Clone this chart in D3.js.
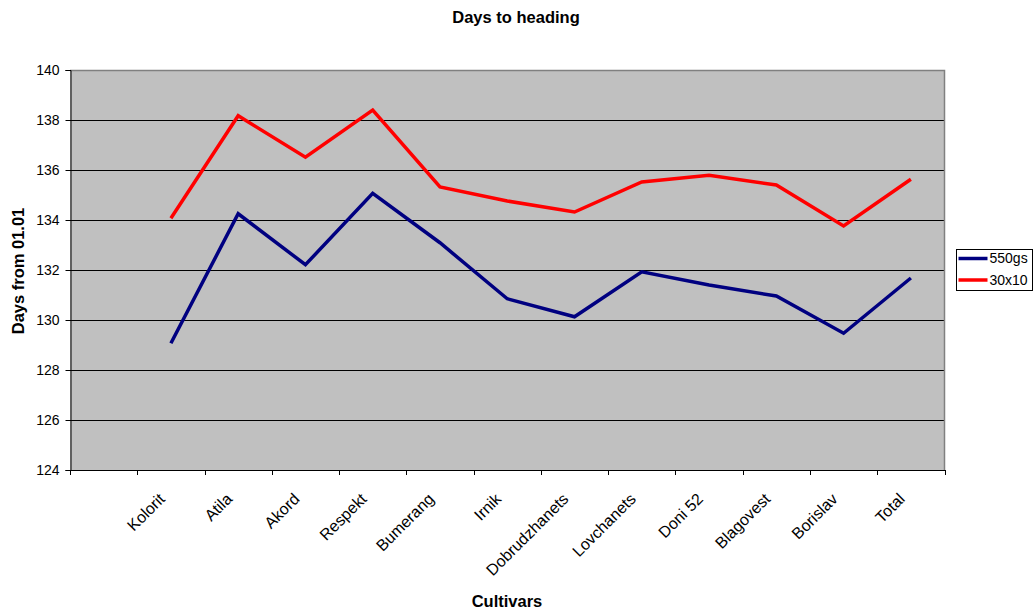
<!DOCTYPE html>
<html>
<head>
<meta charset="utf-8">
<script src="https://cdn.jsdelivr.net/npm/d3@7"></script>
<style>
  html, body { margin: 0; padding: 0; background: #fff; }
  svg text { font-family: "Liberation Sans", Arial, sans-serif; }
</style>
</head>
<body>
<svg id="chart" width="1036" height="610"></svg>
<script>
// Cultivars on the category axis (first slot left blank)
const cultivars = ["", "Kolorit", "Atila", "Akord", "Respekt", "Bumerang", "Irnik",
  "Dobrudzhanets", "Lovchanets", "Doni 52", "Blagovest", "Borislav", "Total"];

// Days from 01.01 to heading, per sowing scheme
const values550gs = [null, 129.07, 134.25, 132.21, 135.07, 133.09, 130.85,
  130.13, 131.93, 131.4, 130.96, 129.47, 131.68];
const values30x10 = [null, 134.07, 138.17, 136.51, 138.4, 135.32, 134.76,
  134.32, 135.52, 135.79, 135.4, 133.76, 135.63];

const yTicks = [124, 126, 128, 130, 132, 134, 136, 138, 140];

const seriesList = [
  { name: "550gs", values: values550gs, color: "#000080" },
  { name: "30x10", values: values30x10, color: "#FF0000" }
];

const svg = d3.select("#chart");
const plot = { left: 70, top: 70, right: 944.5, bottom: 470 };

const x = d3.scaleBand().domain(cultivars.map((d, i) => i))
  .range([plot.left, plot.right]);
const y = d3.scaleLinear().domain([124, 140]).range([plot.bottom, plot.top]);

// Plot background
svg.append("rect")
  .attr("x", plot.left).attr("y", plot.top)
  .attr("width", plot.right - plot.left).attr("height", plot.bottom - plot.top)
  .attr("fill", "#C0C0C0");

// Gridlines
svg.append("g").selectAll("line")
  .data(yTicks.filter(t => t > 124 && t < 140))
  .join("line")
  .attr("x1", plot.left).attr("x2", plot.right)
  .attr("y1", d => Math.round(y(d)) + 0.5).attr("y2", d => Math.round(y(d)) + 0.5)
  .attr("stroke", "#000").attr("stroke-width", 1);

// Frame top/right in grey
svg.append("path")
  .attr("d", `M${plot.left},${plot.top + 0.5}H${plot.right}V${plot.bottom}`)
  .attr("fill", "none").attr("stroke", "#808080").attr("stroke-width", 1.5);

// Y axis
const yAxis = svg.append("g")
  .attr("transform", `translate(${plot.left + 0.5},0)`)
  .call(d3.axisLeft(y).tickValues(yTicks).tickSize(5).tickPadding(6).tickFormat(d3.format("d")));
yAxis.select(".domain").attr("stroke", "#000");
yAxis.selectAll(".tick line").attr("stroke", "#000");
yAxis.selectAll("text").attr("font-size", 14).attr("fill", "#000")
  .attr("font-family", "Liberation Sans, Arial, sans-serif");

// X axis with ticks at band boundaries
const boundaries = d3.range(cultivars.length + 1).map(i => plot.left + i * x.step());
const xg = svg.append("g");
xg.append("line")
  .attr("x1", plot.left).attr("x2", plot.right + 0.5)
  .attr("y1", plot.bottom + 0.5).attr("y2", plot.bottom + 0.5)
  .attr("stroke", "#000");
xg.selectAll(".tk").data(boundaries).join("line")
  .attr("class", "tk")
  .attr("x1", d => Math.round(d) + 0.5).attr("x2", d => Math.round(d) + 0.5)
  .attr("y1", plot.bottom).attr("y2", plot.bottom + 5)
  .attr("stroke", "#000");
xg.selectAll(".lbl").data(cultivars).join("text")
  .attr("class", "lbl")
  .attr("transform", (d, i) => `translate(${x(i) + x.bandwidth() / 2 - 5},${plot.bottom + 30}) rotate(-45)`)
  .attr("text-anchor", "end")
  .attr("font-size", 16)
  .text(d => d);

// Series lines
const line = d3.line()
  .defined(d => d.v != null)
  .x(d => x(d.i) + x.bandwidth() / 2)
  .y(d => y(d.v));

svg.append("g").selectAll("path")
  .data(seriesList)
  .join("path")
  .attr("d", s => line(s.values.map((v, i) => ({ i, v }))))
  .attr("fill", "none")
  .attr("stroke", s => s.color)
  .attr("stroke-width", 3.5)
  .attr("stroke-linejoin", "miter");

// Titles
svg.append("text").attr("x", 516).attr("y", 23).attr("text-anchor", "middle")
  .attr("font-size", 16.5).attr("font-weight", "bold").text("Days to heading");
svg.append("text").attr("x", 507).attr("y", 607).attr("text-anchor", "middle")
  .attr("font-size", 16.5).attr("font-weight", "bold").text("Cultivars");
svg.append("text").attr("transform", "translate(23.5,271) rotate(-90)")
  .attr("text-anchor", "middle")
  .attr("font-size", 16.5).attr("font-weight", "bold").text("Days from 01.01");

// Legend
const legend = svg.append("g").attr("transform", "translate(956.5,249.5)");
legend.append("rect").attr("width", 76).attr("height", 41)
  .attr("fill", "#fff").attr("stroke", "#000");
seriesList.forEach((s, i) => {
  const ly = 9 + i * 21.5;
  legend.append("line").attr("x1", 2).attr("x2", 31).attr("y1", ly).attr("y2", ly)
    .attr("stroke", s.color).attr("stroke-width", 3.5);
  legend.append("text").attr("x", 33).attr("y", ly).attr("dy", "0.35em")
    .attr("font-size", 14).text(s.name);
});
</script>
</body>
</html>
